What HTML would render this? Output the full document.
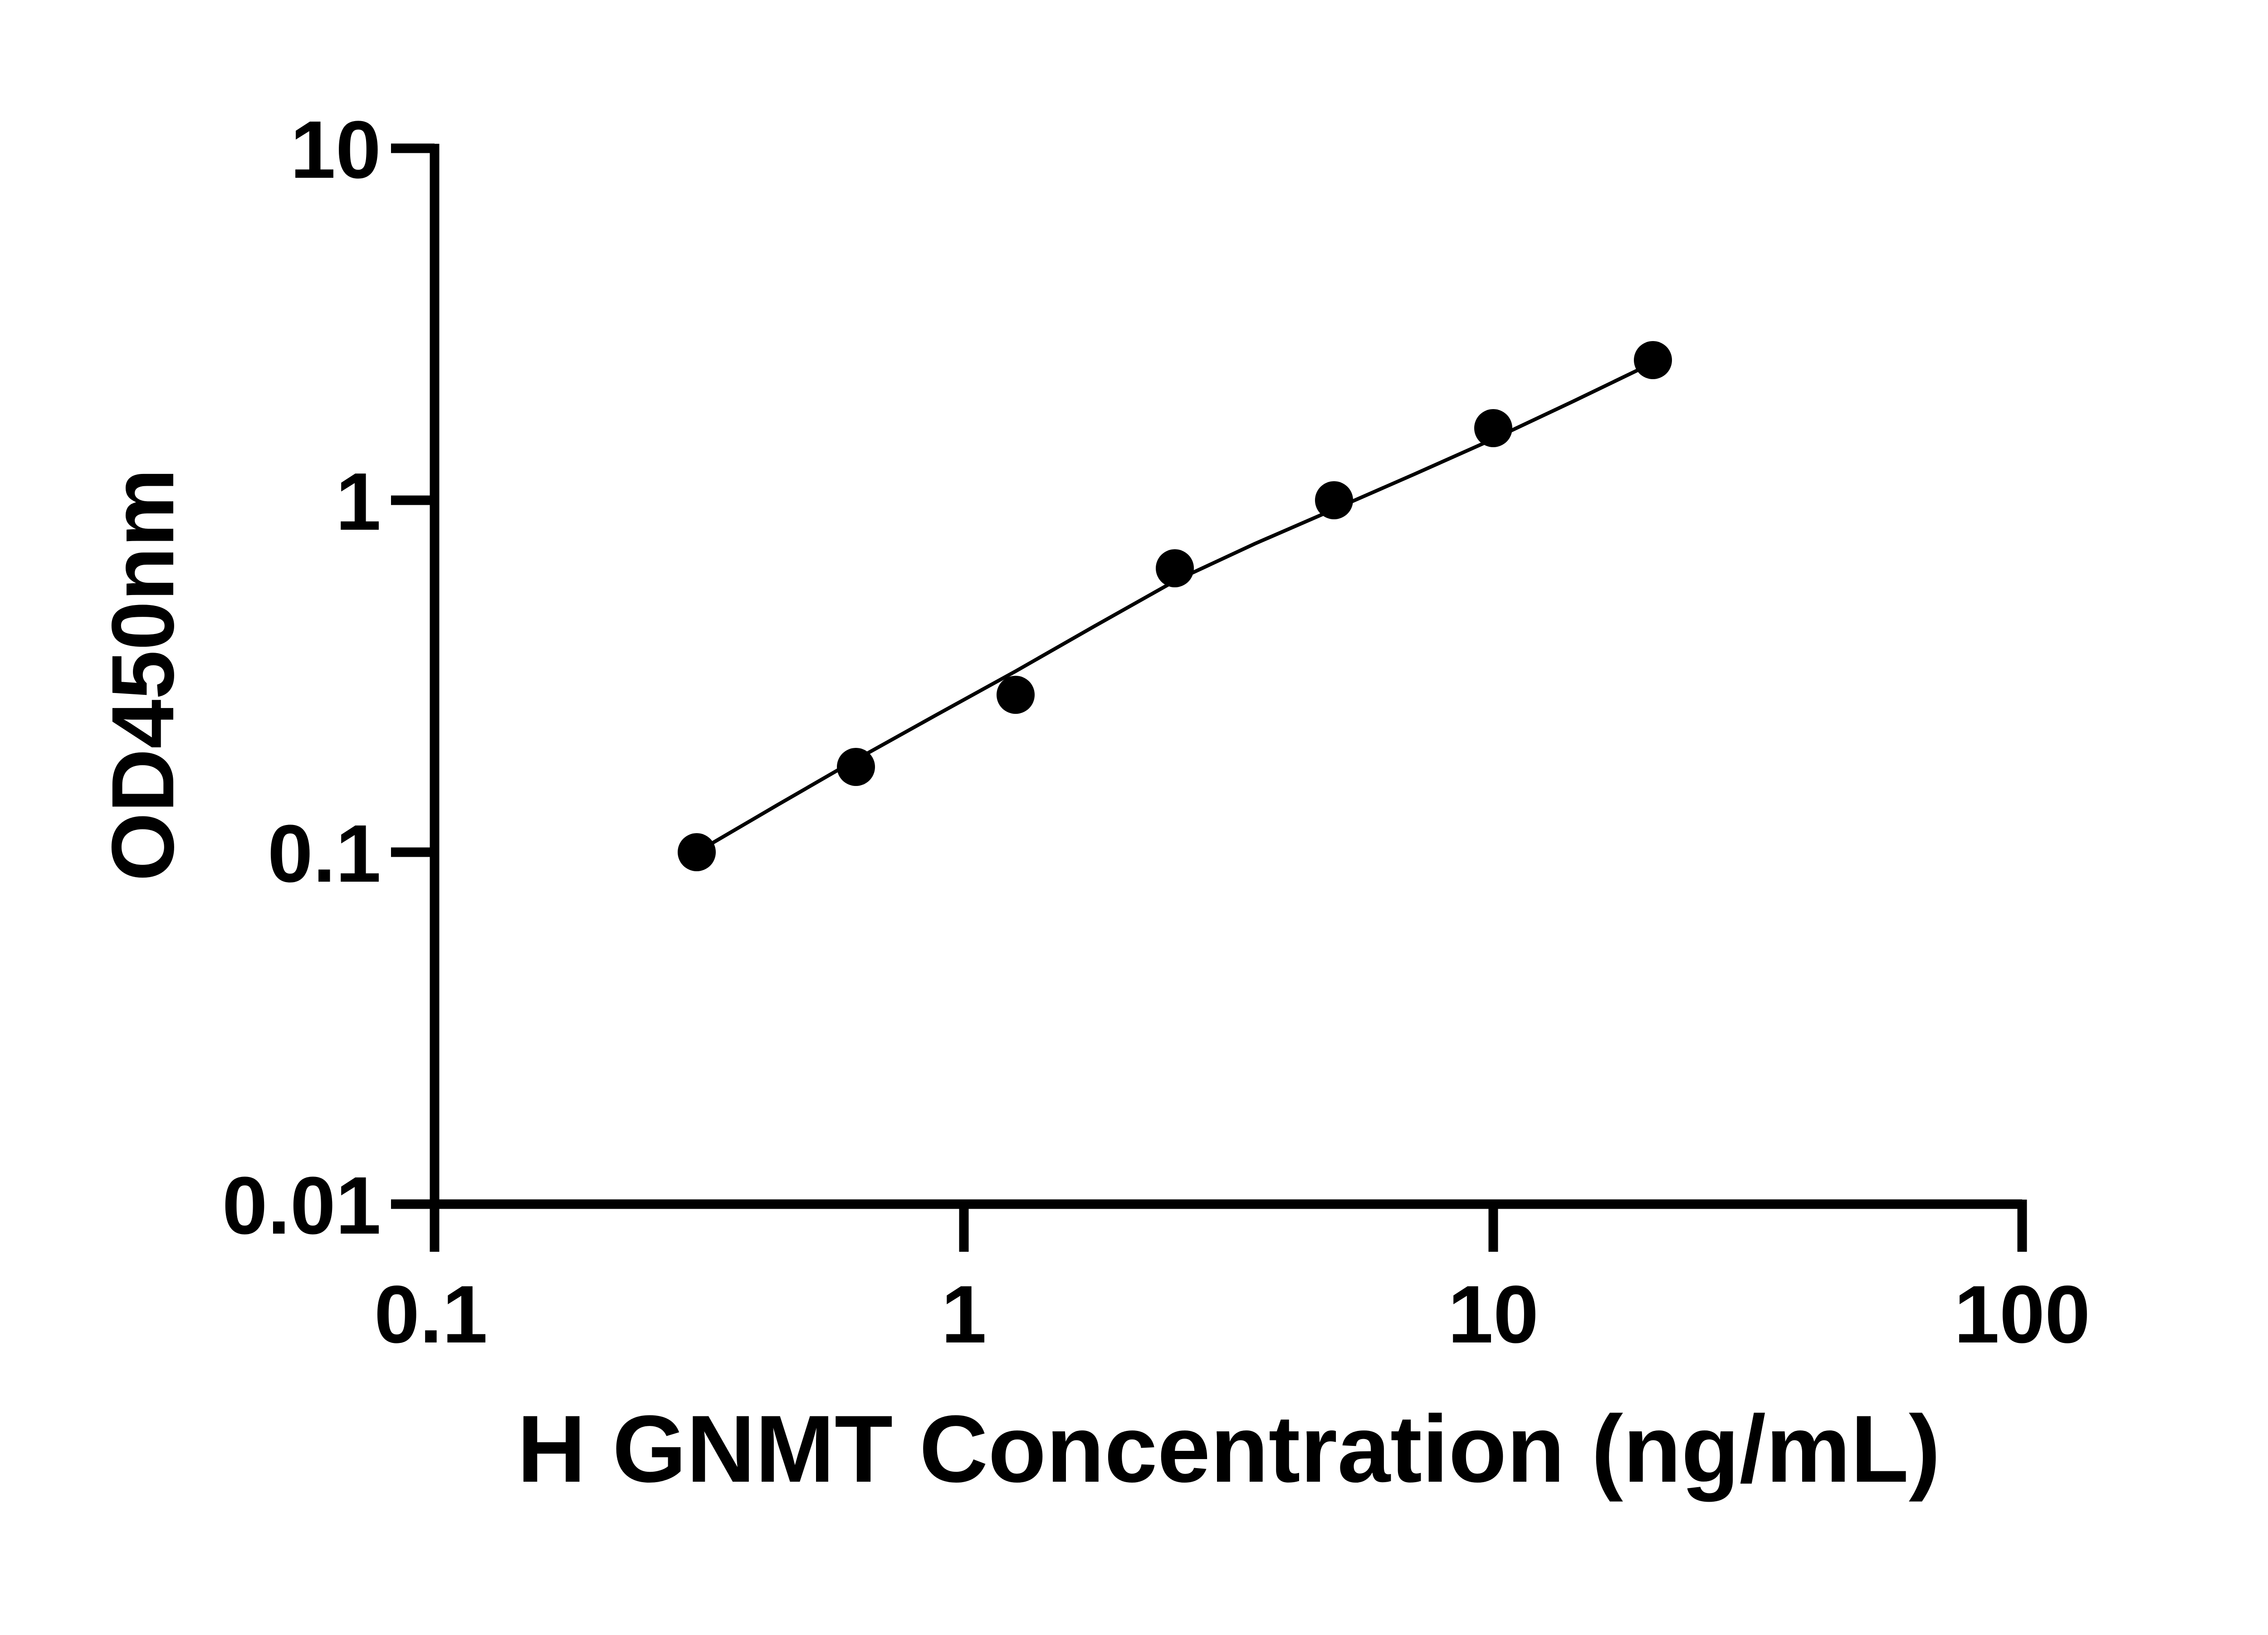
<!DOCTYPE html>
<html><head><style>body{margin:0;background:#fff}</style></head><body>
<svg width="5142" height="3600" xmlns="http://www.w3.org/2000/svg" font-family="Liberation Sans, Arial, sans-serif" font-weight="bold">
<rect width="5142" height="3600" fill="#fff"/>
<g stroke="#000" stroke-width="21" fill="none">
<line x1="958" y1="317" x2="958" y2="2760"/>
<line x1="948" y1="2655" x2="4458" y2="2655"/>
<line x1="862" y1="327" x2="958" y2="327"/>
<line x1="862" y1="1103" x2="958" y2="1103"/>
<line x1="862" y1="1879" x2="958" y2="1879"/>
<line x1="862" y1="2655" x2="958" y2="2655"/>
<line x1="2125" y1="2655" x2="2125" y2="2760"/>
<line x1="3292" y1="2655" x2="3292" y2="2760"/>
<line x1="4458" y1="2645" x2="4458" y2="2760"/>
</g>
<polyline fill="none" stroke="#000" stroke-width="8" points="1536,1879 1712,1776 1887,1675 2063,1577 2239,1480 2414,1380 2590,1281 2766,1199 2941,1123 3117,1046 3292,968 3468,885 3644,800"/>
<g fill="#000">
<circle cx="1536" cy="1879" r="42"/>
<circle cx="1887" cy="1691" r="42"/>
<circle cx="2239" cy="1532" r="42"/>
<circle cx="2590" cy="1253" r="42"/>
<circle cx="2941" cy="1103" r="42"/>
<circle cx="3292" cy="944" r="42"/>
<circle cx="3644" cy="794" r="42"/>
</g>
<g font-size="180" text-anchor="end">
<text x="840" y="392">10</text>
<text x="840" y="1168">1</text>
<text x="840" y="1944">0.1</text>
<text x="840" y="2720">0.01</text>
</g>
<g font-size="180" text-anchor="middle">
<text x="950" y="2960">0.1</text>
<text x="2125" y="2960">1</text>
<text x="3292" y="2960">10</text>
<text x="4458" y="2960">100</text>
</g>
<text x="2709" y="3267" font-size="210" text-anchor="middle">H GNMT Concentration (ng/mL)</text>
<text transform="translate(382,1488) rotate(-90)" font-size="195" text-anchor="middle">OD450nm</text>
</svg>
</body></html>
